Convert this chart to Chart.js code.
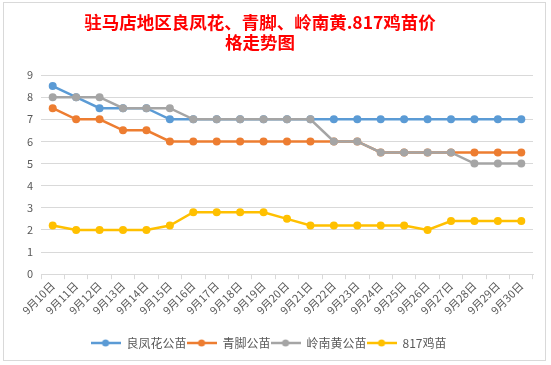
<!DOCTYPE html>
<html><head><meta charset="utf-8">
<script src="https://cdn.jsdelivr.net/npm/chart.js@4/dist/chart.umd.min.js"></script>
<style>
html,body{margin:0;padding:0;background:#fff;width:551px;height:365px;overflow:hidden;}
#frame{position:absolute;left:3px;top:2px;width:543px;height:359px;border:1px solid #d9d9d9;box-sizing:border-box;}
#wrap{position:absolute;left:4px;top:3px;width:541px;height:357px;}
</style></head><body>
<div id="frame"></div>
<div id="wrap"><canvas id="c"></canvas></div>
<script>
const categories = ['9月10日','9月11日','9月12日','9月13日','9月14日','9月15日','9月16日','9月17日','9月18日','9月19日','9月20日','9月21日','9月22日','9月23日','9月24日','9月25日','9月26日','9月27日','9月28日','9月29日','9月30日'];
const seriesNames = ['良凤花公苗','青脚公苗','岭南黄公苗','817鸡苗'];
const liangfenghua = [8.5,8,7.5,7.5,7.5,7,7,7,7,7,7,7,7,7,7,7,7,7,7,7,7];
const qingjiao = [7.5,7,7,6.5,6.5,6,6,6,6,6,6,6,6,6,5.5,5.5,5.5,5.5,5.5,5.5,5.5];
const lingnanhuang = [8,8,8,7.5,7.5,7.5,7,7,7,7,7,7,6,6,5.5,5.5,5.5,5.5,5,5,5];
const ji817 = [2.2,2,2,2,2,2.2,2.8,2.8,2.8,2.8,2.5,2.2,2.2,2.2,2.2,2.2,2,2.4,2.4,2.4,2.4];
const yTicks = [0,1,2,3,4,5,6,7,8,9];
const colors = ['#5B9BD5','#ED7D31','#A5A5A5','#FFC000'];
const titleLines = ['驻马店地区良凤花、青脚、岭南黄.817鸡苗价','格走势图'];

function legendIcon(color){
  const cv = document.createElement('canvas');
  cv.width = 30; cv.height = 10;
  const g = cv.getContext('2d');
  g.strokeStyle = color; g.lineWidth = 2.5;
  g.beginPath(); g.moveTo(0,5); g.lineTo(30,5); g.stroke();
  g.fillStyle = color; g.beginPath(); g.arc(15,5,3.5,0,Math.PI*2); g.fill();
  return cv;
}

// Title drawn as real canvas text, centred slightly left of the canvas centre as in the reference
const titlePlugin = {
  id: 'offsetTitle',
  afterDraw(chart) {
    const ctx = chart.ctx;
    ctx.save();
    ctx.fillStyle = '#FF0000';
    ctx.font = 'bold 17.5px "Noto Sans CJK SC"';
    ctx.textAlign = 'center';
    ctx.textBaseline = 'middle';
    const cx = 256;
    titleLines.forEach((t, i) => ctx.fillText(t, cx, 19 + i * 20));
    ctx.restore();
  }
};

const allData = [liangfenghua, qingjiao, lingnanhuang, ji817];
const datasets = allData.map((d,i)=>({
  label: seriesNames[i],
  data: d,
  borderColor: colors[i],
  backgroundColor: colors[i],
  borderWidth: 2.5,
  pointRadius: 4,
  pointHoverRadius: 4,
  pointBorderWidth: 0,
  pointStyle: 'circle',
  tension: 0,
  order: 4 - i
}));

new Chart(document.getElementById('c'), {
  type: 'line',
  data: { labels: categories, datasets },
  plugins: [titlePlugin],
  options: {
    responsive: true,
    maintainAspectRatio: false,
    animation: false,
    layout: { padding: { left: 0, right: 12, top: 72, bottom: 1 } },
    plugins: {
      title: { display: false },
      legend: {
        position: 'bottom',
        labels: {
          usePointStyle: true,
          pointStyleWidth: 30,
          sort: (a,b)=>a.datasetIndex-b.datasetIndex,
          color: '#595959',
          font: { family: '"Noto Sans CJK SC"', size: 12 },
          boxWidth: 30, padding: 0,
          generateLabels: (chart)=> chart.data.datasets.map((ds,i)=>({
            text: ds.label, pointStyle: legendIcon(colors[i]), fillStyle: colors[i], strokeStyle: colors[i],
            lineWidth: 0, datasetIndex: i, fontColor: '#595959'
          }))
        }
      },
      tooltip: { enabled: false }
    },
    scales: {
      x: {
        offset: true,
        afterFit: (s)=>{ s.height += 20; },
        grid: { drawOnChartArea: false, drawTicks: true, tickLength: 5, offset: true, color: '#d9d9d9' },
        border: { color: '#d9d9d9' },
        ticks: { color: '#595959', font: { family: '"Noto Sans CJK SC"', size: 11 }, maxRotation: 45, minRotation: 45, autoSkip: false, padding: 0 }
      },
      y: {
        min: 0, max: 9,
        afterFit: (s)=>{ s.width = 37; },
        afterBuildTicks: (s)=>{ s.ticks = yTicks.map(v=>({value:v})); },
        grid: { color: '#d9d9d9', drawTicks: false },
        border: { display: false },
        ticks: { color: '#595959', font: { family: '"Noto Sans CJK SC"', size: 11 }, padding: 8 }
      }
    }
  }
});
</script>
</body></html>
